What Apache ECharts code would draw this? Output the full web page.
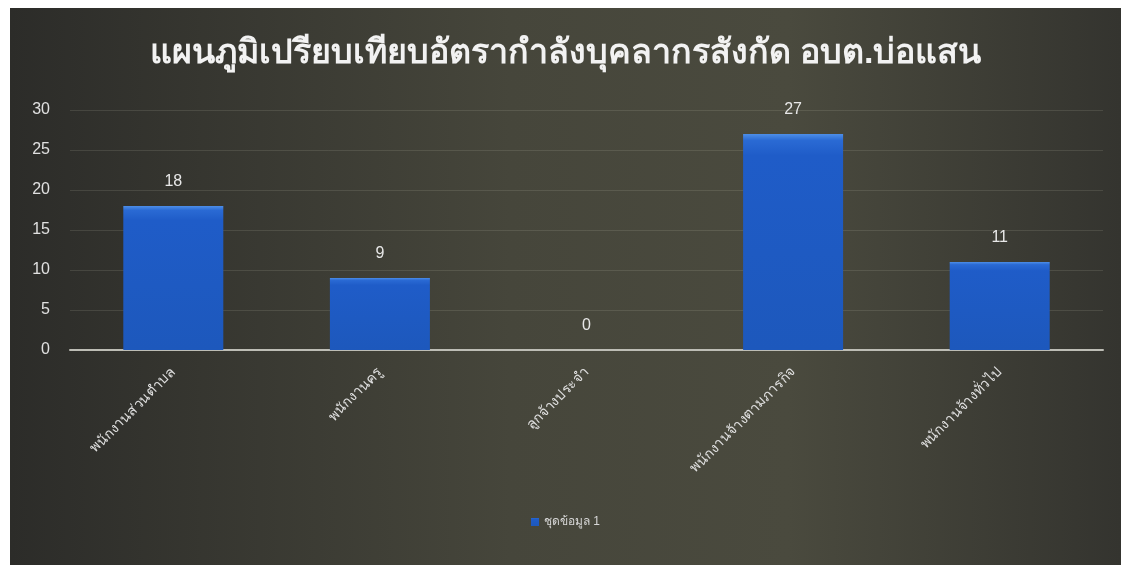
<!DOCTYPE html>
<html><head><meta charset="utf-8">
<script src="https://cdn.jsdelivr.net/npm/echarts@6/dist/echarts.min.js"></script>
<style>html,body{margin:0;padding:0;background:#fff}#c{width:1131px;height:569px}</style>
</head><body><div id="c"></div>
<script>
const title = 'แผนภูมิเปรียบเทียบอัตรากำลังบุคลากรสังกัด อบต.บ่อแสน';
const categories = ['พนักงานส่วนตำบล','พนักงานครู','ลูกจ้างประจำ','พนักงานจ้างตามภารกิจ','พนักงานจ้างทั่วไป'];
const seriesName = 'ชุดข้อมูล 1';
const values = [18, 9, 0, 27, 11];
const yTicks = [0, 5, 10, 15, 20, 25, 30];

const chart = echarts.init(document.getElementById('c'));
chart.setOption({
  backgroundColor: '#ffffff',
  animation: false,
  graphic: [{
    type: 'rect', z: -10, silent: true,
    shape: {x: 10, y: 8, width: 1111, height: 557},
    style: {fill: {type: 'linear', x: 0, y: 0, x2: 1, y2: 0, colorStops: [
      {offset: 0, color: '#2c2c29'}, {offset: 0.45, color: '#46463b'},
      {offset: 0.7, color: '#4a4a3e'}, {offset: 1, color: '#34342f'}]}}
  }],
  title: {
    text: title, left: 'center', top: 32,
    textStyle: {color: '#f2f2f2', fontSize: 34, fontWeight: 'bold', fontFamily: 'sans-serif'}
  },
  legend: {
    bottom: 36, left: 'center', itemWidth: 8, itemHeight: 8, icon: 'rect',
    textStyle: {color: '#d8d8d8', fontSize: 12},
    data: [seriesName]
  },
  grid: {left: 70, right: 28, top: 110, bottom: 219, containLabel: false},
  xAxis: {
    type: 'category', data: categories,
    axisLine: {lineStyle: {color: '#bdbdb5', width: 2}},
    axisTick: {show: false},
    axisLabel: {color: '#e0e0e0', fontSize: 14, rotate: 45, interval: 0, margin: 20}
  },
  yAxis: {
    type: 'value', min: yTicks[0], max: yTicks[yTicks.length-1], interval: 5,
    axisLine: {show: false}, axisTick: {show: false},
    axisLabel: {color: '#e0e0e0', fontSize: 16, margin: 20},
    splitLine: {lineStyle: {color: 'rgba(200,200,180,0.15)'}}
  },
  series: [{
    name: seriesName, type: 'bar', data: values, barWidth: 100,
    itemStyle: {color: {type: 'linear', x: 0, y: 0, x2: 0, y2: 1, colorStops: [
      {offset: 0, color: '#4d8ee8'}, {offset: 0.03, color: '#2a6ad4'},
      {offset: 0.1, color: '#1f5cc8'}, {offset: 1, color: '#1d58bc'}]}},
    label: {show: true, position: 'top', distance: 16, color: '#e8e8e8', fontSize: 16}
  }]
});
</script></body></html>
